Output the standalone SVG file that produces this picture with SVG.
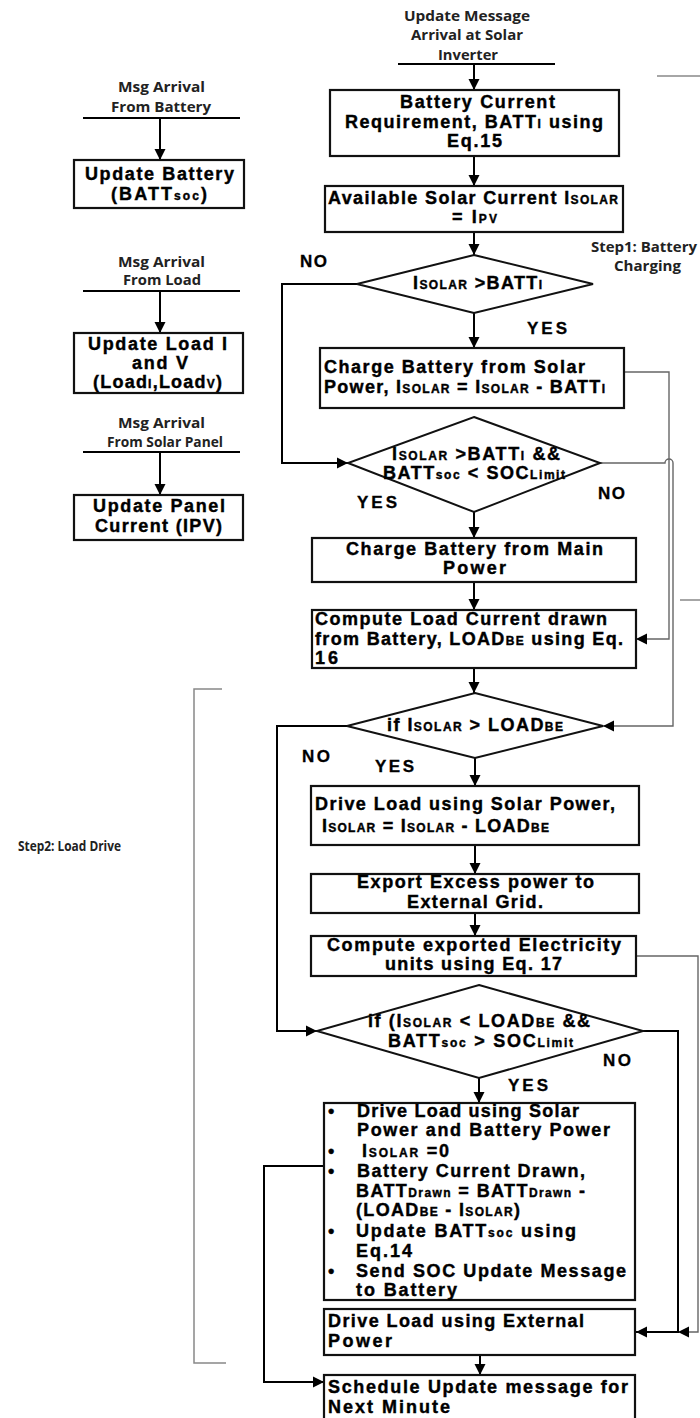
<svg xmlns="http://www.w3.org/2000/svg" width="700" height="1418" viewBox="0 0 700 1418">
<defs>
<marker id="ah" markerWidth="12" markerHeight="12" refX="11" refY="6" orient="auto" markerUnits="userSpaceOnUse">
<path d="M0,0.5 L11,6 L0,11.5 z" fill="#000"/>
</marker>
<style>
.box{fill:#fff;stroke:#111;stroke-width:2.2}
.dia{fill:#fff;stroke:#111;stroke-width:2}
.t{font-family:"Liberation Sans",Arial,sans-serif;font-weight:bold;font-size:18px;fill:#000;stroke:#000;stroke-width:0.4}
.s{font-size:12px}
.l{font-family:"Open Sans","Liberation Sans",sans-serif;font-weight:bold;font-size:14px;fill:#222}
.yn{font-family:"Liberation Sans",Arial,sans-serif;font-weight:bold;font-size:17px;fill:#000;stroke:#000;stroke-width:0.3}
.conn{fill:none;stroke:#000;stroke-width:2}
.thin{fill:none;stroke:#666;stroke-width:1.4}
.br{fill:none;stroke:#888;stroke-width:1.5}
</style>
</defs>
<rect width="700" height="1418" fill="#fff"/>

<g id="connectors">
<path class="conn" d="M398,64 H555"/>
<path class="conn" d="M474,64 V90" marker-end="url(#ah)"/>
<path class="conn" d="M474,156 V186" marker-end="url(#ah)"/>
<path class="conn" d="M474,232 V255" marker-end="url(#ah)"/>
<path class="conn" d="M474,313 V348" marker-end="url(#ah)"/>
<path class="conn" d="M357,284 H282 V463 H348" marker-end="url(#ah)"/>
<path class="conn" d="M474,512 V538" marker-end="url(#ah)"/>
<path class="conn" d="M474,582 V610" marker-end="url(#ah)"/>
<path class="conn" d="M474,668 V693" marker-end="url(#ah)"/>
<path class="thin" d="M624,372 H669 V639 H636" marker-end="url(#ah)"/>
<path class="thin" d="M600,463 H665 A4,4 0 0 1 673,463 V726 H603" marker-end="url(#ah)"/>
<path class="conn" d="M347,726 H277 V1031 H317" marker-end="url(#ah)"/>
<path class="conn" d="M475,758 V786" marker-end="url(#ah)"/>
<path class="conn" d="M475,845 V874" marker-end="url(#ah)"/>
<path class="conn" d="M475,913 V936" marker-end="url(#ah)"/>
<path class="thin" d="M636,956 H698 V1332 H678" marker-end="url(#ah)"/>
<path class="conn" d="M643,1031 H678 V1332 H636" marker-end="url(#ah)"/>
<path class="conn" d="M479,1078 V1103" marker-end="url(#ah)"/>
<path class="conn" d="M324,1166 H264 V1382 H324" marker-end="url(#ah)"/>
<path class="conn" d="M480,1355 V1375" marker-end="url(#ah)"/>
<path class="conn" d="M83,118 H240"/>
<path class="conn" d="M160,118 V160" marker-end="url(#ah)"/>
<path class="conn" d="M83,291 H240"/>
<path class="conn" d="M160,291 V333" marker-end="url(#ah)"/>
<path class="conn" d="M83,452 H240"/>
<path class="conn" d="M160,452 V495" marker-end="url(#ah)"/>
<path class="br" d="M657,76 H700"/>
<path class="br" d="M680,600 H700"/>
<path class="br" d="M222,689 H194 V1363 H226"/>
</g>

<g id="labels">
<text class="l" x="404" y="21" textLength="126" lengthAdjust="spacingAndGlyphs">Update Message</text>
<text class="l" x="411" y="40" textLength="112" lengthAdjust="spacingAndGlyphs">Arrival at Solar</text>
<text class="l" x="438" y="60" textLength="60" lengthAdjust="spacingAndGlyphs">Inverter</text>
<text class="l" x="591" y="252" textLength="106" lengthAdjust="spacingAndGlyphs">Step1: Battery</text>
<text class="l" x="614" y="271" textLength="67" lengthAdjust="spacingAndGlyphs">Charging</text>
<text class="l" x="18" y="851" textLength="103" lengthAdjust="spacingAndGlyphs">Step2: Load Drive</text>
<text class="l" x="118" y="92" textLength="87" lengthAdjust="spacingAndGlyphs">Msg Arrival</text>
<text class="l" x="111" y="112" textLength="100" lengthAdjust="spacingAndGlyphs">From Battery</text>
<text class="l" x="118" y="267" textLength="87" lengthAdjust="spacingAndGlyphs">Msg Arrival</text>
<text class="l" x="123" y="285" textLength="78" lengthAdjust="spacingAndGlyphs">From Load</text>
<text class="l" x="118" y="428" textLength="87" lengthAdjust="spacingAndGlyphs">Msg Arrival</text>
<text class="l" x="107" y="447" textLength="116" lengthAdjust="spacingAndGlyphs">From Solar Panel</text>
<text class="yn" x="300" y="267" textLength="27">NO</text>
<text class="yn" x="527" y="334" textLength="40">YES</text>
<text class="yn" x="598" y="499" textLength="27">NO</text>
<text class="yn" x="357" y="508" textLength="40">YES</text>
<text class="yn" x="302" y="762" textLength="28">NO</text>
<text class="yn" x="375" y="772" textLength="39">YES</text>
<text class="yn" x="603" y="1066" textLength="28">NO</text>
<text class="yn" x="508" y="1091" textLength="40">YES</text>
</g>

<g id="n-battery">
<rect class="box" x="74" y="160" width="170" height="48"/>
<text class="t" x="85" y="180" textLength="149">Update Battery</text>
<text class="t" x="111" y="200" textLength="96">(BATT<tspan class="s">soc</tspan>)</text>
</g>
<g id="n-load">
<rect class="box" x="74" y="333" width="169" height="60"/>
<text class="t" x="88" y="350" textLength="139">Update Load I</text>
<text class="t" x="132" y="369" textLength="56">and V</text>
<text class="t" x="93" y="388" textLength="129">(Load<tspan class="s">I</tspan>,Load<tspan class="s">V</tspan>)</text>
</g>
<g id="n-panel">
<rect class="box" x="74" y="495" width="169" height="45"/>
<text class="t" x="93" y="512" textLength="132">Update Panel</text>
<text class="t" x="95" y="532" textLength="127">Current (IPV)</text>
</g>

<g id="n1">
<rect class="box" x="330" y="90" width="289" height="66"/>
<text class="t" x="400" y="108" textLength="155">Battery Current</text>
<text class="t" x="345" y="128" textLength="258">Requirement, BATT<tspan class="s">I</tspan> using</text>
<text class="t" x="447" y="147" textLength="55">Eq.15</text>
</g>
<g id="n2">
<rect class="box" x="325" y="186" width="298" height="46"/>
<text class="t" x="328" y="204" textLength="290">Available Solar Current I<tspan class="s">SOLAR</tspan></text>
<text class="t" x="452" y="223" textLength="45">= I<tspan class="s">PV</tspan></text>
</g>
<g id="d1">
<polygon class="dia" points="474,255 593,284 474,313 357,284"/>
<text class="t" x="413" y="289" textLength="129">I<tspan class="s">SOLAR</tspan> &gt;BATT<tspan class="s">I</tspan></text>
</g>
<g id="n3">
<rect class="box" x="320" y="348" width="304" height="60"/>
<text class="t" x="324" y="373" textLength="261">Charge Battery from Solar</text>
<text class="t" x="324" y="393" textLength="281">Power, I<tspan class="s">SOLAR</tspan> = I<tspan class="s">SOLAR</tspan> - BATT<tspan class="s">I</tspan></text>
</g>
<g id="d2">
<polygon class="dia" points="474,417 600,463 474,512 348,463"/>
<text class="t" x="392" y="460" textLength="168">I<tspan class="s">SOLAR</tspan> &gt;BATT<tspan class="s">I</tspan> &amp;&amp;</text>
<text class="t" x="383" y="479" textLength="182">BATT<tspan class="s">soc</tspan> &lt; SOC<tspan class="s">Limit</tspan></text>
</g>
<g id="n4">
<rect class="box" x="312" y="538" width="324" height="44"/>
<text class="t" x="346" y="555" textLength="257">Charge Battery from Main</text>
<text class="t" x="443" y="574" textLength="63">Power</text>
</g>
<g id="n5">
<rect class="box" x="312" y="610" width="324" height="58"/>
<text class="t" x="315" y="625" textLength="292">Compute Load Current drawn</text>
<text class="t" x="315" y="645" textLength="308">from Battery, LOAD<tspan class="s">BE</tspan> using Eq.</text>
<text class="t" x="315" y="664" textLength="23">16</text>
</g>
<g id="d3">
<polygon class="dia" points="475,693 603,726 475,758 347,726"/>
<text class="t" x="387" y="731" textLength="176">if I<tspan class="s">SOLAR</tspan>  &gt; LOAD<tspan class="s">BE</tspan></text>
</g>
<g id="n6">
<rect class="box" x="311" y="786" width="328" height="59"/>
<text class="t" x="315" y="810" textLength="300">Drive Load using Solar Power,</text>
<text class="t" x="322" y="832" textLength="227">I<tspan class="s">SOLAR</tspan>  = I<tspan class="s">SOLAR</tspan> - LOAD<tspan class="s">BE</tspan></text>
</g>
<g id="n7">
<rect class="box" x="311" y="874" width="328" height="39"/>
<text class="t" x="357" y="888" textLength="237">Export Excess power to</text>
<text class="t" x="407" y="908" textLength="136">External Grid.</text>
</g>
<g id="n8">
<rect class="box" x="311" y="936" width="325" height="40"/>
<text class="t" x="327" y="951" textLength="294">Compute exported Electricity</text>
<text class="t" x="385" y="970" textLength="177">units using Eq. 17</text>
</g>
<g id="d4">
<polygon class="dia" points="479,985 643,1031 479,1078 317,1031"/>
<text class="t" x="368" y="1027" textLength="222">if (I<tspan class="s">SOLAR</tspan>  &lt; LOAD<tspan class="s">BE</tspan> &amp;&amp;</text>
<text class="t" x="388" y="1047" textLength="185">BATT<tspan class="s">soc</tspan> &gt; SOC<tspan class="s">Limit</tspan></text>
</g>
<g id="n9">
<rect class="box" x="324" y="1103" width="311" height="197"/>
<text class="t" x="328" y="1117">•</text>
<text class="t" x="357" y="1117" textLength="222">Drive Load using Solar</text>
<text class="t" x="357" y="1136" textLength="253">Power and Battery Power</text>
<text class="t" x="328" y="1157">•</text>
<text class="t" x="362" y="1157" textLength="87">I<tspan class="s">SOLAR</tspan>  =0</text>
<text class="t" x="328" y="1177">•</text>
<text class="t" x="357" y="1177" textLength="228">Battery Current Drawn,</text>
<text class="t" x="356" y="1197" textLength="229">BATT<tspan class="s">Drawn</tspan> = BATT<tspan class="s">Drawn</tspan> -</text>
<text class="t" x="356" y="1216" textLength="164">(LOAD<tspan class="s">BE</tspan>  - I<tspan class="s">SOLAR</tspan>)</text>
<text class="t" x="328" y="1237">•</text>
<text class="t" x="356" y="1237" textLength="220">Update BATT<tspan class="s">soc</tspan> using</text>
<text class="t" x="356" y="1257" textLength="56">Eq.14</text>
<text class="t" x="328" y="1277">•</text>
<text class="t" x="356" y="1277" textLength="270">Send SOC Update Message</text>
<text class="t" x="356" y="1296" textLength="101">to Battery</text>
</g>
<g id="n10">
<rect class="box" x="324" y="1309" width="311" height="46"/>
<text class="t" x="328" y="1327" textLength="256">Drive Load using External</text>
<text class="t" x="328" y="1347" textLength="64">Power</text>
</g>
<g id="n11">
<rect class="box" x="324" y="1375" width="311" height="60"/>
<text class="t" x="328" y="1393" textLength="300">Schedule Update message for</text>
<text class="t" x="328" y="1413" textLength="122">Next Minute</text>
</g>
</svg>
